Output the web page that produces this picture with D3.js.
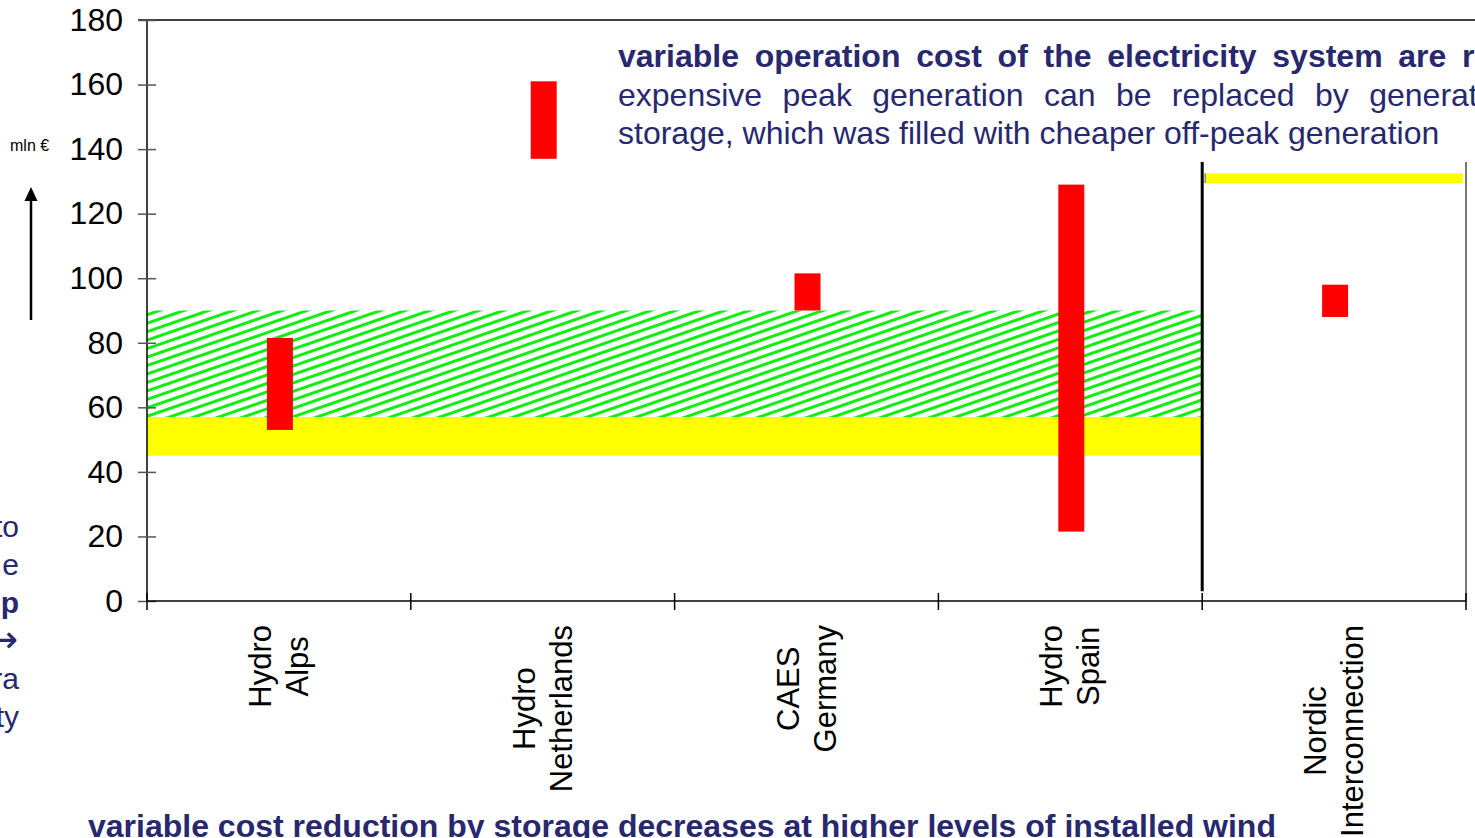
<!DOCTYPE html>
<html><head><meta charset="utf-8">
<script src="https://cdn.jsdelivr.net/npm/d3@7"></script>
<style>html,body{margin:0;padding:0;background:#fff;overflow:hidden}svg{display:block}</style>
</head><body>
<svg id="c" width="1475" height="838"></svg>
<script>
// ---- data ----
const categories = [["Hydro","Alps"],["Hydro","Netherlands"],["CAES","Germany"],["Hydro","Spain"],["Nordic","Interconnection"]];
const rangeLow  = [53, 137, 90, 21.5, 88];
const rangeHigh = [81.5, 161, 101.5, 129, 98];
const yTicks = [0, 20, 40, 60, 80, 100, 120, 140, 160, 180];
const hatchBand = [57, 90];      // green hatched band (categories 1-4)
const yellowBand = [45, 57];     // yellow band (categories 1-4)
const nordicBand = [129.5, 132.5]; // yellow band (Nordic)
const topText = ["variable operation cost of the electricity system are reduced:",
                 "expensive peak generation can be replaced by generation from",
                 "storage, which was filled with cheaper off-peak generation"];
const bottomText = "variable cost reduction by storage decreases at higher levels of installed wind";
const leftFragments = ["to", "e", "p", "\u2192", "ra", "ty"];
const unitLabel = "mln \u20ac";

// ---- chart ----
const svg = d3.select("#c");
const font = "'Liberation Sans', Arial, sans-serif";
const navy = "#28286e";
const x = d3.scaleBand().domain(d3.range(categories.length)).range([147, 1466]).padding(0);
const y = d3.scaleLinear().domain([0, 180]).range([601, 20]);

const defs = svg.append("defs");
const pat = defs.append("pattern").attr("id", "hatch").attr("patternUnits", "userSpaceOnUse")
  .attr("width", 8).attr("height", 8).attr("patternTransform", "rotate(-19)");
pat.append("rect").attr("width", 8).attr("height", 8).attr("fill", "#fff");
pat.append("rect").attr("y", 0).attr("width", 8).attr("height", 3).attr("fill", "#11ee11");

const x0 = x(0), x4 = x(4);
// bands
svg.append("rect").attr("x", x0).attr("width", x4 - x0)
  .attr("y", y(hatchBand[1])).attr("height", y(hatchBand[0]) - y(hatchBand[1])).attr("fill", "url(#hatch)");
svg.append("rect").attr("x", x0).attr("width", x4 - x0)
  .attr("y", y(yellowBand[1])).attr("height", y(yellowBand[0]) - y(yellowBand[1])).attr("fill", "#ffff00");
svg.append("rect").attr("x", x4 + 3).attr("width", x.bandwidth() - 6)
  .attr("y", y(nordicBand[1])).attr("height", y(nordicBand[0]) - y(nordicBand[1])).attr("fill", "#ffff00");
svg.append("line").attr("x1", x4 + 3).attr("x2", x4 + 3).attr("y1", y(nordicBand[1])).attr("y2", y(nordicBand[0]))
  .attr("stroke", "#888").attr("stroke-width", 1.5);

// range bars
const bw = 26;
svg.append("g").selectAll("rect").data(categories).join("rect")
  .attr("x", (d, i) => x(i) + x.bandwidth() / 2 - bw / 2 + 1)
  .attr("width", bw)
  .attr("y", (d, i) => y(rangeHigh[i]))
  .attr("height", (d, i) => y(rangeLow[i]) - y(rangeHigh[i]))
  .attr("fill", "#ff0000");

// frame lines
svg.append("line").attr("x1", 138).attr("x2", 1475).attr("y1", y(180)).attr("y2", y(180)).attr("stroke", "#000").attr("stroke-width", 1.5);
svg.append("line").attr("x1", x0).attr("x2", x0).attr("y1", y(180)).attr("y2", y(0)).attr("stroke", "#000").attr("stroke-width", 1.5);
svg.append("line").attr("x1", x4).attr("x2", x4).attr("y1", y(136)).attr("y2", y(3)).attr("stroke", "#000").attr("stroke-width", 3);
svg.append("line").attr("x1", 1466).attr("x2", 1466).attr("y1", y(136)).attr("y2", y(0)).attr("stroke", "#777").attr("stroke-width", 2);

// y axis
const ya = svg.append("g").attr("transform", `translate(${x0},0)`)
  .call(d3.axisLeft(y).tickValues(yTicks).tickSize(9).tickPadding(15));
ya.select(".domain").remove();
ya.selectAll(".tick line").attr("stroke", "#555").attr("x2", 9).attr("x1", -9).attr("stroke-width", 1.5);
ya.selectAll(".tick text").attr("font-family", font).attr("font-size", 32).attr("fill", "#000");

// x axis
const xb = d3.range(categories.length + 1).map(i => i < categories.length ? x(i) : x.range()[1]);
svg.append("line").attr("x1", x0).attr("x2", 1466).attr("y1", y(0)).attr("y2", y(0)).attr("stroke", "#000").attr("stroke-width", 1.5);
svg.append("g").selectAll("line").data(xb).join("line")
  .attr("x1", d => d).attr("x2", d => d).attr("y1", y(0) - 8).attr("y2", y(0) + 9)
  .attr("stroke", "#000").attr("stroke-width", 1.5);

// category labels
const lg = svg.append("g");
categories.forEach((c, i) => {
  const cx = x(i) + x.bandwidth() / 2;
  const t = lg.append("text").attr("font-family", font).attr("font-size", 31).attr("fill", "#000")
    .attr("text-anchor", "middle");
  c.forEach((s, j) => t.append("tspan").attr("x", 0).attr("y", j === 0 ? -8 : 29).text(s));
  let maxLen = 0;
  t.selectAll("tspan").each(function () { maxLen = Math.max(maxLen, this.getComputedTextLength()); });
  t.attr("transform", `translate(${cx},${625 + maxLen / 2}) rotate(-90)`);
});

// top text box
const tt = svg.append("g").attr("font-family", font).attr("font-size", 32).attr("fill", navy);
tt.append("text").attr("x", 618).attr("y", 67).attr("font-weight", "bold").attr("word-spacing", 6.8).text(topText[0]);
tt.append("text").attr("x", 618).attr("y", 106).attr("word-spacing", 11.5).text(topText[1]);
tt.append("text").attr("x", 618).attr("y", 144).text(topText[2]);

// bottom text
svg.append("text").attr("x", 88).attr("y", 837).attr("font-family", font).attr("font-size", 32)
  .attr("font-weight", "bold").attr("fill", navy).text(bottomText);

// left fragments
svg.append("g").selectAll("text").data(leftFragments).join("text")
  .attr("x", (d, i) => i === 3 ? 18 : 19).attr("y", (d, i) => 537 + i * 38 + (i === 3 ? 1 : 0)).attr("text-anchor", "end")
  .attr("font-family", (d, i) => i === 3 ? "'DejaVu Sans', sans-serif" : font)
  .attr("font-size", (d, i) => i === 3 ? 38 : 30).attr("fill", navy)
  .attr("font-weight", (d, i) => i === 2 ? "bold" : "normal").text(d => d);

// unit label and arrow
svg.append("text").attr("x", 10).attr("y", 151).attr("font-family", font).attr("font-size", 16).attr("fill", "#000").text(unitLabel);
svg.append("line").attr("x1", 31).attr("x2", 31).attr("y1", 320).attr("y2", 198).attr("stroke", "#000").attr("stroke-width", 2.5);
svg.append("path").attr("d", "M31,187 L24.5,201 L37.5,201 Z").attr("fill", "#000");
</script>
</body></html>
